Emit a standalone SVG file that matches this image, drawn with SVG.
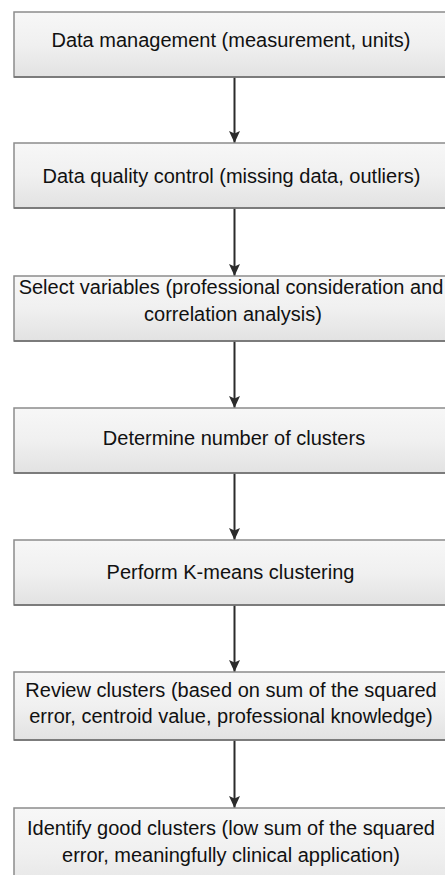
<svg xmlns="http://www.w3.org/2000/svg" width="445" height="875" viewBox="0 0 445 875">
  <defs>
    <linearGradient id="boxfill" x1="0" y1="0" x2="0" y2="1">
      <stop offset="0" stop-color="#f7f7f7"/>
      <stop offset="0.5" stop-color="#f0f0f0"/>
      <stop offset="1" stop-color="#e2e2e2"/>
    </linearGradient>
    <marker id="arrow" markerUnits="userSpaceOnUse" markerWidth="14" markerHeight="14" refX="12" refY="6" orient="auto">
      <path d="M0,0.5 L12,6 L0,11.5 L2.5,6 Z" fill="#2b2b2b"/>
    </marker>
  </defs>
  <style>
    .box { fill: url(#boxfill); stroke: #8c8c8c; stroke-width: 1.5; }
    .shadow { fill: none; stroke: #6e6e6e; stroke-width: 1.5; }
    .label { font-family: "Liberation Sans", Arial, sans-serif; font-size: 20px; fill: #111; text-anchor: middle; }
    .conn { stroke: #2b2b2b; stroke-width: 2; fill: none; marker-end: url(#arrow); }
  </style>
  <rect width="445" height="875" fill="#ffffff"/>

  <g id="connectors">
    <line class="conn" x1="234.5" y1="77" x2="234.5" y2="143"/>
    <line class="conn" x1="234.5" y1="208" x2="234.5" y2="276"/>
    <line class="conn" x1="234.5" y1="341" x2="234.5" y2="408"/>
    <line class="conn" x1="234.5" y1="473" x2="234.5" y2="540"/>
    <line class="conn" x1="234.5" y1="605" x2="234.5" y2="672"/>
    <line class="conn" x1="234.5" y1="740" x2="234.5" y2="808"/>
  </g>

  <g id="node1">
    <rect class="box" x="14" y="12" width="450" height="65"/>
    <line class="shadow" x1="14" y1="77" x2="445" y2="77"/>
    <text class="label" x="231" y="47">Data management (measurement, units)</text>
  </g>

  <g id="node2">
    <rect class="box" x="14" y="143" width="450" height="65"/>
    <line class="shadow" x1="14" y1="208" x2="445" y2="208"/>
    <text class="label" x="231.5" y="183">Data quality control (missing data, outliers)</text>
  </g>

  <g id="node3">
    <rect class="box" x="14" y="276" width="450" height="65"/>
    <line class="shadow" x1="14" y1="341" x2="445" y2="341"/>
    <text class="label" x="231" y="294">Select variables (professional consideration and</text>
    <text class="label" x="233" y="321">correlation analysis)</text>
  </g>

  <g id="node4">
    <rect class="box" x="14" y="408" width="450" height="65"/>
    <line class="shadow" x1="14" y1="473" x2="445" y2="473"/>
    <text class="label" x="234" y="445">Determine number of clusters</text>
  </g>

  <g id="node5">
    <rect class="box" x="14" y="540" width="450" height="65"/>
    <line class="shadow" x1="14" y1="605" x2="445" y2="605"/>
    <text class="label" x="230.5" y="579">Perform K-means clustering</text>
  </g>

  <g id="node6">
    <rect class="box" x="14" y="672" width="450" height="68"/>
    <line class="shadow" x1="14" y1="740" x2="445" y2="740"/>
    <text class="label" x="231" y="697">Review clusters (based on sum of the squared</text>
    <text class="label" x="231" y="723">error, centroid value, professional knowledge)</text>
  </g>

  <g id="node7">
    <rect class="box" x="14" y="808" width="450" height="90"/>
    <text class="label" x="231" y="835">Identify good clusters (low sum of the squared</text>
    <text class="label" x="231" y="862">error, meaningfully clinical application)</text>
  </g>
</svg>
